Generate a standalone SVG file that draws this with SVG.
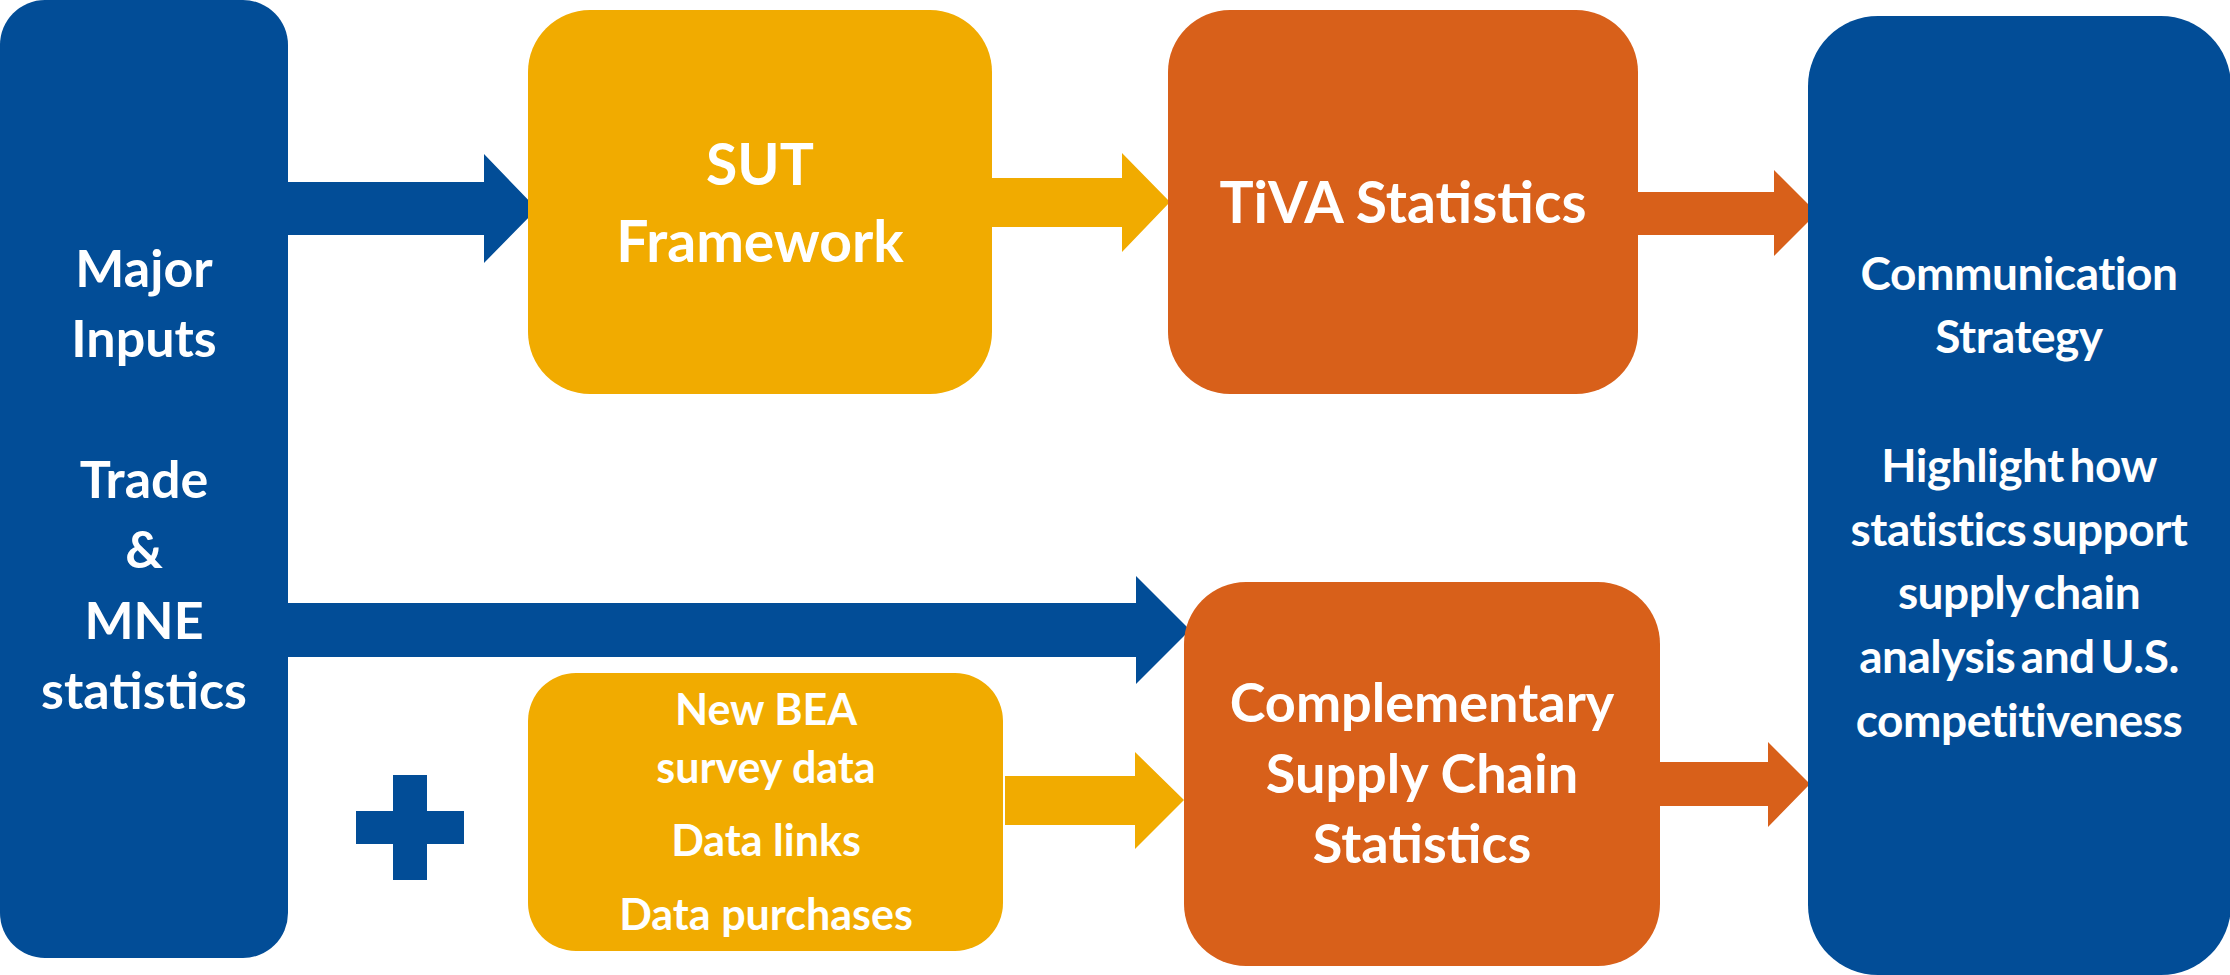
<svg xmlns="http://www.w3.org/2000/svg" width="2230" height="975" viewBox="0 0 2230 975">
<style>
.blue{fill:#024D97}
.yel{fill:#F1AB00}
.org{fill:#D8601A}
text{font-family:Lato,"Open Sans","Liberation Sans",sans-serif;font-weight:bold;fill:#FFFFFF;text-anchor:middle}
.t57{font-size:57px}
.t52{font-size:52px}
.t46{font-size:46px;letter-spacing:-0.5px;word-spacing:-5px}
.t54{font-size:54px}
.t42{font-size:43px}
</style>
<rect width="2230" height="975" fill="#FFFFFF"/>
<g id="connectors">
<polygon class="blue" points="285,182 484,182 484,154 537,209 484,263 484,235 285,235"/>
<polygon class="yel" points="988,178 1122,178 1122,153 1170,202 1122,252 1122,227 988,227"/>
<polygon class="org" points="1634,192 1774,192 1774,170 1817,213 1774,256 1774,235 1634,235"/>
<polygon class="blue" points="285,603 1136,603 1136,576 1190,630 1136,684 1136,657 285,657"/>
<polygon class="yel" points="1005,776 1135,776 1135,752 1184,800 1135,849 1135,825 1005,825"/>
<polygon class="org" points="1656,762 1768,762 1768,742 1810,784 1768,827 1768,806 1656,806"/>
</g>
<g id="major-inputs">
<rect class="blue" x="0" y="0" width="288" height="958" rx="45" ry="45"/>
<text class="t52" x="144" y="287">Major</text>
<text class="t52" x="144" y="357">Inputs</text>
<text class="t52" x="144" y="498">Trade</text>
<text class="t52" x="144" y="568">&amp;</text>
<text class="t52" x="144" y="639">MNE</text>
<text class="t52" x="144" y="709">statistics</text>
</g>
<g id="sut">
<rect class="yel" x="528" y="10" width="464" height="384" rx="62" ry="62"/>
<text class="t57" x="760" y="185">SUT</text>
<text class="t57" x="760" y="262">Framework</text>
</g>
<g id="tiva">
<rect class="org" x="1168" y="10" width="470" height="384" rx="62" ry="62"/>
<text class="t57" x="1403" y="223">TiVA Statistics</text>
</g>
<g id="communication">
<rect class="blue" x="1808" y="16" width="423" height="959" rx="70" ry="70"/>
<text class="t46" x="2019" y="290">Communication</text>
<text class="t46" x="2019" y="353">Strategy</text>
<text class="t46" x="2019" y="482">Highlight how</text>
<text class="t46" x="2019" y="546">statistics support</text>
<text class="t46" x="2019" y="609">supply chain</text>
<text class="t46" x="2019" y="673">analysis and U.S.</text>
<text class="t46" x="2019" y="737">competitiveness</text>
</g>
<g id="complementary">
<rect class="org" x="1184" y="582" width="476" height="384" rx="62" ry="62"/>
<text class="t54" x="1422" y="722">Complementary</text>
<text class="t54" x="1422" y="793">Supply Chain</text>
<text class="t54" x="1422" y="863">Statistics</text>
</g>
<g id="plus">
<rect class="blue" x="393" y="775" width="34" height="105"/>
<rect class="blue" x="356" y="811" width="108" height="33"/>
</g>
<g id="new-data">
<rect class="yel" x="528" y="673" width="475" height="278" rx="48" ry="48"/>
<text class="t42" x="766" y="725">New BEA</text>
<text class="t42" x="766" y="783">survey data</text>
<text class="t42" x="766" y="856">Data links</text>
<text class="t42" x="766" y="930">Data purchases</text>
</g>
</svg>
